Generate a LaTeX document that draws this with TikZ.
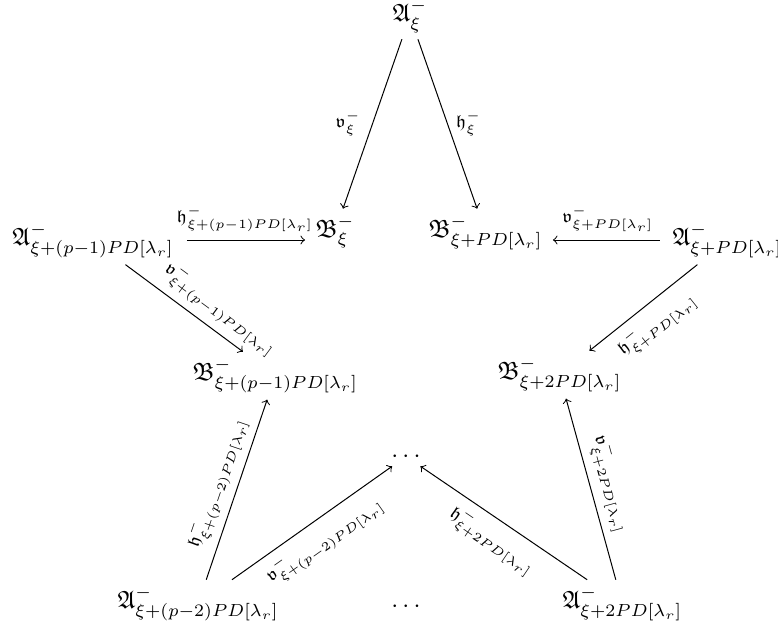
\documentclass[tikz,border=0pt]{standalone}
\usepackage{amssymb}
\begin{document}
\begin{tikzpicture}[x=1pt, y=1pt,
  obj/.style={anchor=base west, inner sep=2.5pt},
  dotsnode/.style={anchor=base, inner sep=1.5pt},
  lab/.style={font=\scriptsize, inner sep=3pt},
  arr/.style={->, line width=0.4pt}]
\useasboundingbox (0,0) rectangle (311.2,-251.6);
\node[obj] (At)   at (154.3,-8.6)  {$\mathfrak{A}^-_{\xi}$};
\node[obj] (Ap1)  at (2.3,-98)     {$\mathfrak{A}^-_{\xi+(p-1)PD[\lambda_r]}$};
\node[obj] (Bxi)  at (123.5,-94.8) {$\mathfrak{B}^-_{\xi}$};
\node[obj] (Bpd)  at (168.7,-94.8) {$\mathfrak{B}^-_{\xi+PD[\lambda_r]}$};
\node[obj] (Apd)  at (266.3,-98)   {$\mathfrak{A}^-_{\xi+PD[\lambda_r]}$};
\node[obj] (Bp1)  at (74.3,-152)   {$\mathfrak{B}^-_{\xi+(p-1)PD[\lambda_r]}$};
\node[obj] (B2pd) at (196.3,-151.6){$\mathfrak{B}^-_{\xi+2PD[\lambda_r]}$};
\node[dotsnode] (dm) at (162.4,-184.8) {$\cdots$};
\node[dotsnode] (db) at (162.4,-245)   {$\cdots$};
\node[obj] (Ap2)  at (44.3,-243.2) {$\mathfrak{A}^-_{\xi+(p-2)PD[\lambda_r]}$};
\node[obj] (A2pd) at (222.3,-243.2){$\mathfrak{A}^-_{\xi+2PD[\lambda_r]}$};
\coordinate (hy) at (0,-96);

\draw[arr] (At) -- node[lab, left, xshift=-1.5pt] {$\mathfrak{v}^-_{\xi}$} (Bxi);
\draw[arr] (At) -- node[lab, right] {$\mathfrak{h}^-_{\xi}$} (Bpd);
\draw[arr, shorten <=2.5pt, shorten >=1.5pt] (Ap1.east |- hy) -- node[lab, above] {$\mathfrak{h}^-_{\xi+(p-1)PD[\lambda_r]}$} (Bxi.west |- hy);
\draw[arr, shorten <=2.5pt, shorten >=1.5pt] (Apd.west |- hy) -- node[lab, above] {$\mathfrak{v}^-_{\xi+PD[\lambda_r]}$} (Bpd.east |- hy);
\draw[arr] (Ap1) -- node[lab, above, sloped, pos=0.7] {$\mathfrak{v}^-_{\xi+(p-1)PD[\lambda_r]}$} (Bp1);
\draw[arr] (Apd) -- node[lab, below, sloped] {$\mathfrak{h}^-_{\xi+PD[\lambda_r]}$} (B2pd);
\draw[arr] (Ap2) -- node[lab, above, sloped] {$\mathfrak{h}^-_{\xi+(p-2)PD[\lambda_r]}$} (Bp1);
\draw[arr] (Ap2) -- node[lab, below, sloped] {$\mathfrak{v}^-_{\xi+(p-2)PD[\lambda_r]}$} (dm);
\draw[arr] (A2pd) -- node[lab, below, sloped] {$\mathfrak{h}^-_{\xi+2PD[\lambda_r]}$} (dm);
\draw[arr] (A2pd) -- node[lab, above, sloped] {$\mathfrak{v}^-_{\xi+2PD[\lambda_r]}$} (B2pd);
\end{tikzpicture}
\end{document}
